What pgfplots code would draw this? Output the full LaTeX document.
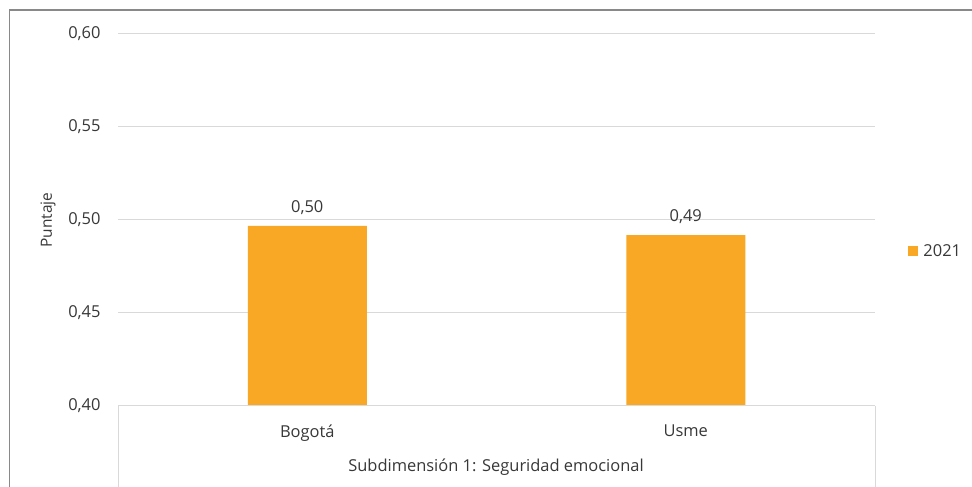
\documentclass[border=0pt]{standalone}
\usepackage{fontspec}
\setmainfont{Open Sans}
\usepackage{pgfplots}
\pgfplotsset{compat=1.18}
\definecolor{barc}{RGB}{249,168,37}
\definecolor{txt}{RGB}{56,56,56}
\definecolor{gridc}{RGB}{217,217,217}
\definecolor{framec}{RGB}{137,137,137}
\begin{document}
\begin{tikzpicture}
\useasboundingbox (0bp,0bp) rectangle (972bp,487bp);
\fill[white] (0bp,0bp) rectangle (972bp,487bp);
\draw[framec,line width=1.3bp] (9.5bp,0bp) -- (9.5bp,477bp) -- (972bp,477bp);
\begin{axis}[
  at={(118bp,81bp)}, anchor=south west,
  scale only axis, width=757bp, height=372bp,
  xmin=0, xmax=2, ymin=0.40, ymax=0.60,
  ytick={0.40,0.45,0.50,0.55,0.60},
  xtick={0.5,1.5}, xticklabels={Bogotá,Usme},
  axis line style={draw=none},
  ymajorgrids, grid style={gridc, line width=1bp},
  major tick length=0pt,
  font=\fontsize{16.5}{19}\selectfont,
  tick label style={txt},
  /pgf/number format/.cd, fixed, fixed zerofill, precision=2, use comma, assume math mode=true,
  /pgfplots/.cd,
  yticklabel style={xshift=-14bp},
  xticklabel style={yshift=-15bp},
  ybar, bar width=119bp,
  nodes near coords,
  nodes near coords style={txt, yshift=8bp, /pgf/number format/.cd, fixed, fixed zerofill, precision=2, use comma, assume math mode=true},
  legend style={at={(1.04,0.4167)}, anchor=west, draw=none, fill=none, font=\fontsize{16.5}{19}\selectfont, text=txt, nodes={inner xsep=5bp}},
  legend image code/.code={\fill[barc] (0bp,-5bp) rectangle (10bp,5bp);},
  clip=false,
]
\addplot[fill=barc, draw=none] coordinates {(0.5,0.4968) (1.5,0.4919)};
\addlegendentry{2021}
\draw[gridc, line width=1bp] (axis cs:0,0.40) -- (axis cs:2,0.40);
\end{axis}
\draw[gridc, line width=1bp] (118bp,81bp) -- (118bp,0bp);
\draw[gridc, line width=1bp] (875bp,81bp) -- (875bp,0bp);
\node[txt, font=\fontsize{15.5}{18}\selectfont, rotate=90] at (48bp,267bp) {Puntaje};
\node[txt, font=\fontsize{16.5}{19}\selectfont] at (496bp,20bp) {Subdimensión 1: Seguridad emocional};
\end{tikzpicture}
\end{document}
